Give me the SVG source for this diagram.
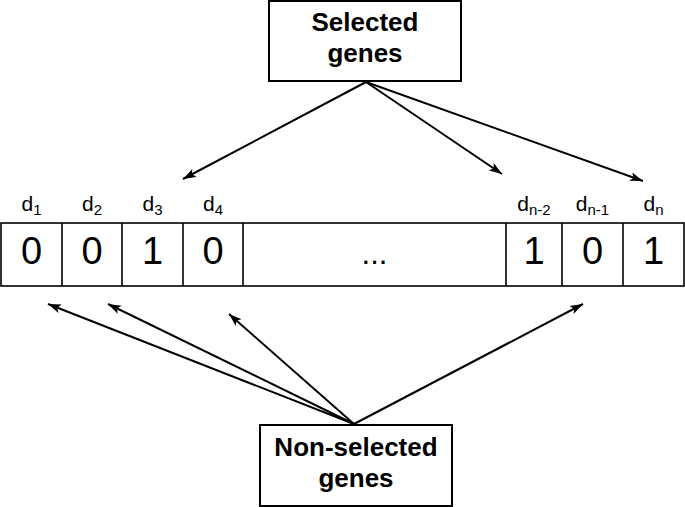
<svg xmlns="http://www.w3.org/2000/svg" width="685" height="507" viewBox="0 0 685 507">
<defs>
<marker id="ah" markerUnits="userSpaceOnUse" markerWidth="14" markerHeight="10" refX="13" refY="5" orient="auto">
<path d="M0,0.5 L13,5 L0,9.5 L3,5 Z" fill="#000"/>
</marker>
<style>
.box{fill:#fff;stroke:#000;stroke-width:2}
.cell{fill:#fff;stroke:#000;stroke-width:1.6}
.title{font-family:"Liberation Sans",Arial,sans-serif;font-weight:bold;font-size:26px;text-anchor:middle;fill:#000}
.dig{font-family:"Liberation Sans",Arial,sans-serif;font-size:38px;text-anchor:middle;fill:#000}
.lbl{font-family:"Liberation Sans",Arial,sans-serif;font-size:21px;text-anchor:middle;fill:#000}
.sub{font-size:15px}
.arr{stroke:#000;stroke-width:2;fill:none;marker-end:url(#ah)}
</style>
</defs>
<rect width="685" height="507" fill="#fff"/>

<g id="selected">
<rect class="box" x="269" y="1" width="192" height="80"/>
<text class="title" x="365" y="31">Selected</text>
<text class="title" x="365" y="62">genes</text>
</g>

<g id="nonselected">
<rect class="box" x="260" y="425" width="192" height="81"/>
<text class="title" x="356" y="456">Non-selected</text>
<text class="title" x="356" y="487">genes</text>
</g>

<g id="array">
<rect class="cell" x="1" y="223" width="683" height="63"/>
<line class="cell" x1="62" y1="223" x2="62" y2="286"/>
<line class="cell" x1="122" y1="223" x2="122" y2="286"/>
<line class="cell" x1="183" y1="223" x2="183" y2="286"/>
<line class="cell" x1="243" y1="223" x2="243" y2="286"/>
<line class="cell" x1="506" y1="223" x2="506" y2="286"/>
<line class="cell" x1="562" y1="223" x2="562" y2="286"/>
<line class="cell" x1="623" y1="223" x2="623" y2="286"/>
<text class="dig" x="31.5" y="264">0</text>
<text class="dig" x="92" y="264">0</text>
<text class="dig" x="152.5" y="264">1</text>
<text class="dig" x="213" y="264">0</text>
<text class="dig" x="374.5" y="264" style="font-size:31px">...</text>
<text class="dig" x="534" y="264">1</text>
<text class="dig" x="592.5" y="264">0</text>
<text class="dig" x="653.5" y="264">1</text>
</g>

<g id="labels">
<text class="lbl" x="31.5" y="211">d<tspan class="sub" dy="4">1</tspan></text>
<text class="lbl" x="92" y="211">d<tspan class="sub" dy="4">2</tspan></text>
<text class="lbl" x="152.5" y="211">d<tspan class="sub" dy="4">3</tspan></text>
<text class="lbl" x="213" y="211">d<tspan class="sub" dy="4">4</tspan></text>
<text class="lbl" x="534" y="211">d<tspan class="sub" dy="4">n-2</tspan></text>
<text class="lbl" x="592.5" y="211">d<tspan class="sub" dy="4">n-1</tspan></text>
<text class="lbl" x="653.5" y="211">d<tspan class="sub" dy="4">n</tspan></text>
</g>

<g id="connectors">
<line class="arr" x1="366" y1="82" x2="183" y2="179"/>
<line class="arr" x1="366" y1="82" x2="502" y2="174"/>
<line class="arr" x1="366" y1="82" x2="643" y2="181"/>
<line class="arr" x1="354" y1="424" x2="48" y2="304"/>
<line class="arr" x1="354" y1="424" x2="108" y2="304"/>
<line class="arr" x1="354" y1="424" x2="229" y2="314"/>
<line class="arr" x1="354" y1="424" x2="583" y2="304"/>
</g>
</svg>
